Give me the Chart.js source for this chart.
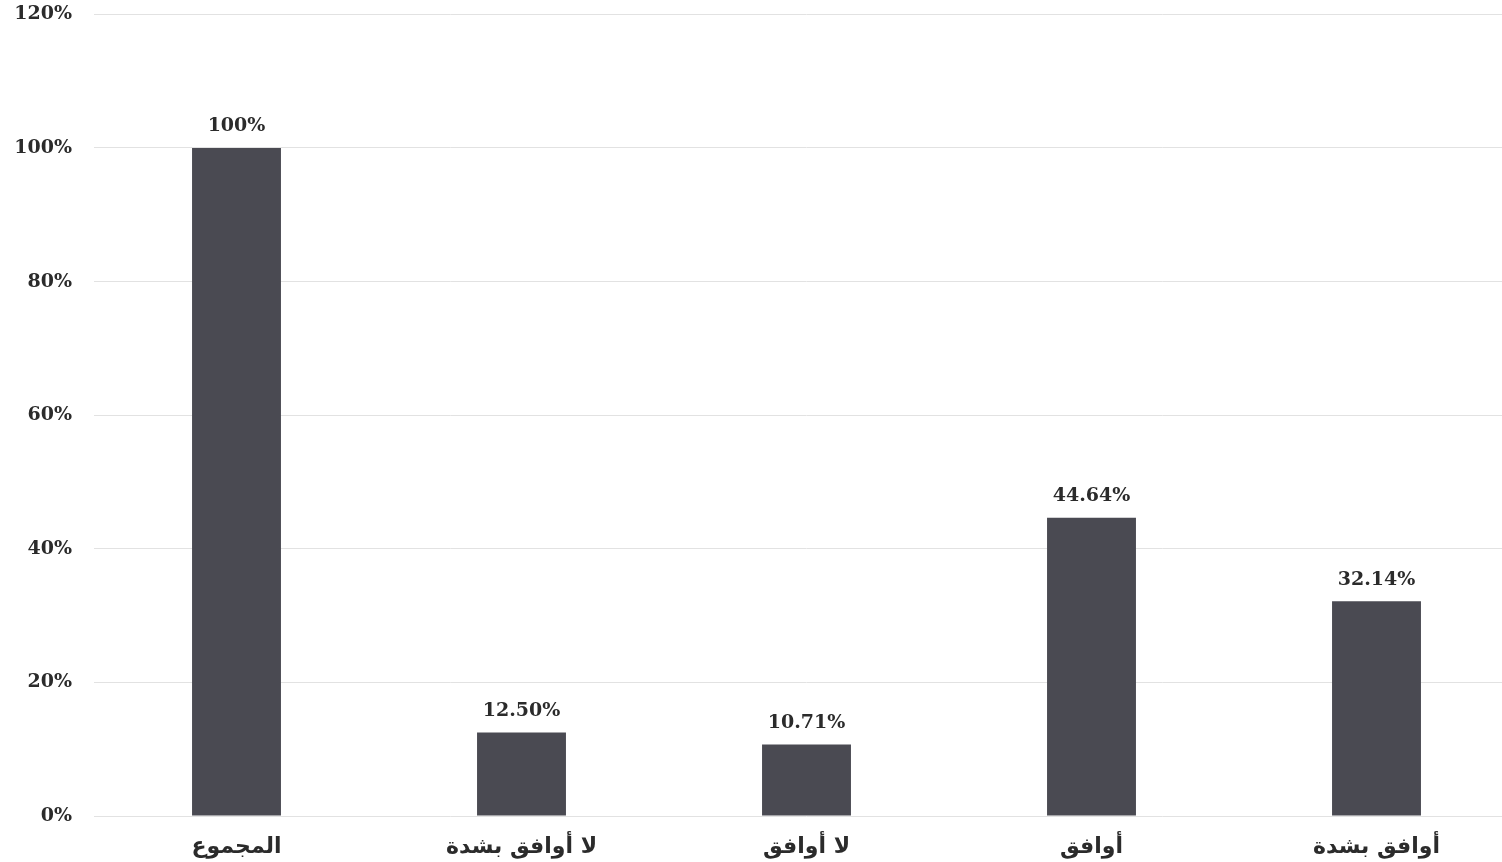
<!DOCTYPE html>
<html>
<head>
<meta charset="utf-8">
<script src="https://cdn.jsdelivr.net/npm/chart.js@4/dist/chart.umd.min.js"></script>
<style>
  html, body { margin: 0; padding: 0; background: #fff; overflow: hidden; }
  #wrap { width: 1520px; height: 881px; margin-top: -19px; position: relative; }
</style>
</head>
<body>
<div id="wrap"><canvas id="myChart"></canvas></div>
<script>
var categories = ["المجموع", "لا أوافق بشدة", "لا أوافق", "أوافق", "أوافق بشدة"];
var values = [100, 12.50, 10.71, 44.64, 32.14];
var valueLabels = ["100%", "12.50%", "10.71%", "44.64%", "32.14%"];

var ctx = document.getElementById("myChart");

// draw the percent text above each bar
var barLabels = {
    id: "barLabels",
    afterDatasetsDraw: function (chart) {
        var c = chart.ctx;
        var meta = chart.getDatasetMeta(0);
        c.save();
        c.font = "bold 19px 'DejaVu Serif'";
        c.fillStyle = "#2b2b2b";
        c.textAlign = "center";
        c.textBaseline = "bottom";
        meta.data.forEach(function (bar, i) {
            c.fillText(valueLabels[i], bar.x, bar.y - 12);
        });
        c.restore();
    }
};

var myChart = new Chart(ctx, {
    type: 'bar',
    data: {
        labels: categories,
        datasets: [
            {
                data: values,
                backgroundColor: "#4a4a52",
                borderWidth: 0,
                categoryPercentage: 1,
                barPercentage: 0.312
            }
        ]
    },
    options: {
        responsive: true,
        maintainAspectRatio: false,
        animation: false,
        layout: { padding: { top: 0, right: 1, left: 0, bottom: 0 } },
        plugins: {
            legend: { display: false },
            tooltip: { enabled: false }
        },
        scales: {
            x: {
                grid: { display: false },
                border: { display: false },
                ticks: {
                    color: "#2b2b2b",
                    font: { family: "'DejaVu Sans'", size: 22, weight: "bold" },
                    padding: 10
                },
                afterFit: function (scale) { scale.height = 46; }
            },
            y: {
                min: 0,
                max: 120,
                ticks: {
                    stepSize: 20,
                    color: "#2b2b2b",
                    font: { family: "'DejaVu Serif'", size: 19, weight: "bold" },
                    padding: 22,
                    callback: function (v) { return v + "%"; }
                },
                grid: { color: "#e2e2e2", lineWidth: 1, drawTicks: false },
                border: { display: false },
                afterFit: function (scale) { scale.width = 94; }
            }
        }
    },
    plugins: [barLabels]
});
</script>
</body>
</html>
